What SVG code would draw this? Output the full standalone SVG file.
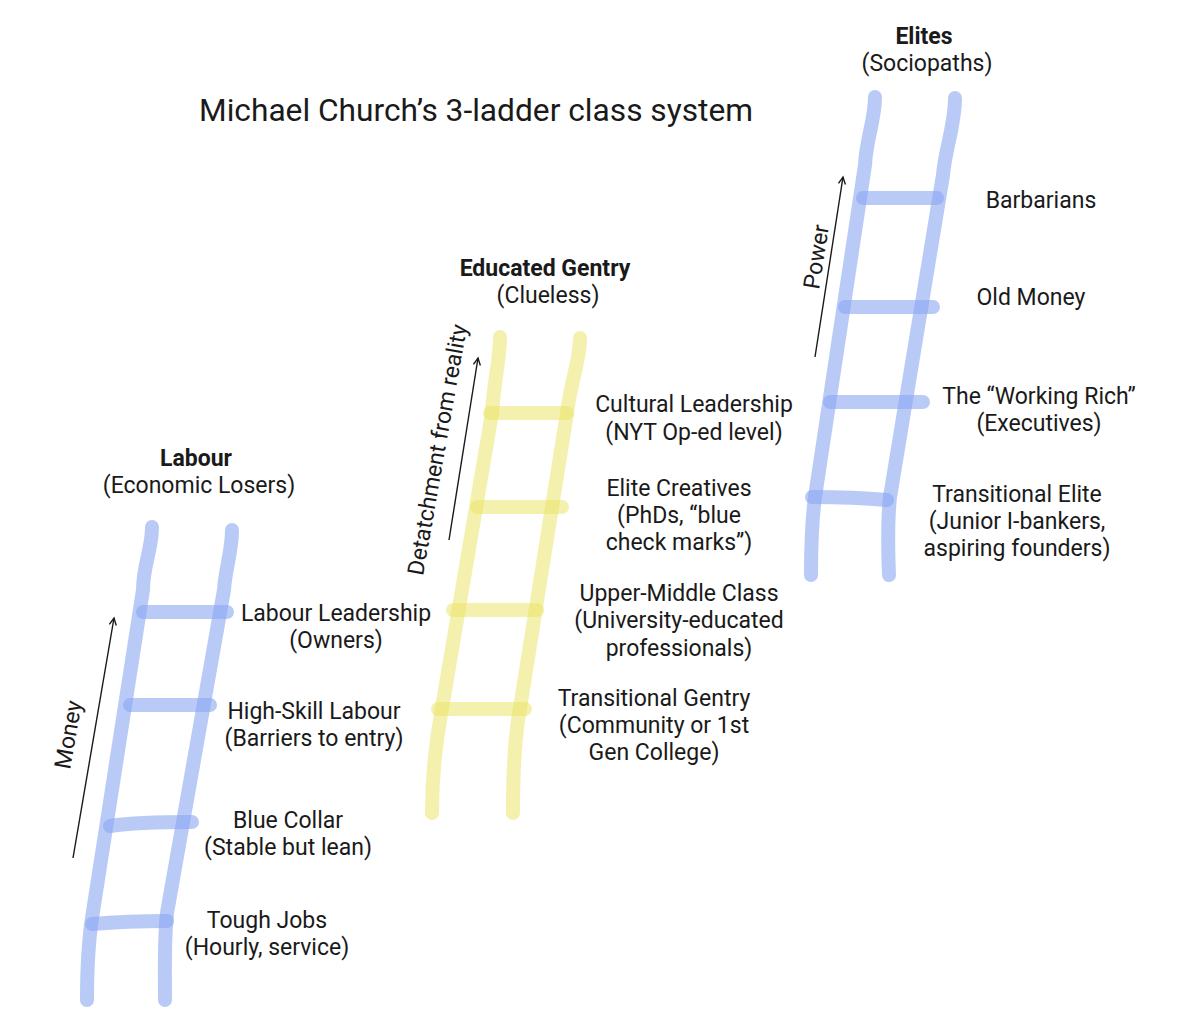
<svg xmlns="http://www.w3.org/2000/svg" width="1200" height="1031" viewBox="0 0 1200 1031">
<defs>
<style>
text{font-family:Roboto,"Liberation Sans",sans-serif;font-size:23px;fill:#1a1a1a;text-anchor:middle}
.b{font-weight:bold}
.title{font-size:31.7px}
.blue path{stroke:#8aa6f2;stroke-opacity:.6;stroke-width:14;fill:none;stroke-linecap:round;stroke-linejoin:round}
.yellow path{stroke:#ebe36a;stroke-opacity:.55;stroke-width:14;fill:none;stroke-linecap:round;stroke-linejoin:round}
.arrow{stroke:#1a1a1a;stroke-width:1.4;fill:none;marker-end:url(#ah)}
</style>
<marker id="ah" markerUnits="userSpaceOnUse" markerWidth="12" markerHeight="12" refX="8" refY="4" orient="auto" viewBox="0 0 12 8">
<path d="M1,0.5 L8,4 L1,7.5" fill="none" stroke="#1a1a1a" stroke-width="1.4"/>
</marker>
</defs>
<rect width="1200" height="1031" fill="#ffffff"/>
<text class="title" x="476" y="121">Michael Church’s 3-ladder class system</text>

<g id="ladder-labour" class="blue">
<path d="M152,527 C152,550 143,565 143,590 L92,918 C88,945 87,975 87,1000"/>
<path d="M232,530 C232,552 225,570 224,590 L167,913 C164,940 165,970 165,1000"/>
<path d="M143,612 L227,612"/>
<path d="M130,705 L210,705"/>
<path d="M110,826 C130,823 160,822 192,822"/>
<path d="M92,924 C115,922 140,921 167,921"/>
</g>

<g id="ladder-gentry" class="yellow">
<path d="M500,337 C500,360 494,380 492,413 L442,708 C436,740 432,770 432,813"/>
<path d="M580,338 C580,360 570,385 567,413 L520,708 C514,740 513,780 513,813"/>
<path d="M490,413 L567,413"/>
<path d="M477,507 L562,507"/>
<path d="M453,610 L537,610"/>
<path d="M438,709 L525,709"/>
</g>

<g id="ladder-elites" class="blue">
<path d="M875,97 C875,120 866,140 865,165 L815,497 C812,520 811,550 811,575"/>
<path d="M955,98 C955,125 945,150 943,175 L890,497 C887,525 888,550 889,575"/>
<path d="M863,198 L937,198"/>
<path d="M845,307 L933,307"/>
<path d="M830,402 L923,402"/>
<path d="M812,497 C840,497 865,498 887,500"/>
</g>

<g id="connectors">
<line class="arrow" x1="73" y1="858" x2="114" y2="618"/>
<line class="arrow" x1="449" y1="540" x2="478" y2="358"/>
<line class="arrow" x1="815" y1="357" x2="843" y2="177"/>
</g>

<g id="axis-labels">
<text transform="translate(76,736) rotate(-80)">Money</text>
<text transform="translate(445,451) rotate(-80)">Detatchment from reality</text>
<text transform="translate(824,258) rotate(-81)">Power</text>
</g>

<g id="head-labour">
<text class="b" x="196" y="466">Labour</text>
<text x="199" y="493">(Economic Losers)</text>
</g>
<g id="head-gentry">
<text class="b" x="545" y="276">Educated Gentry</text>
<text x="548" y="303">(Clueless)</text>
</g>
<g id="head-elites">
<text class="b" x="924" y="44">Elites</text>
<text x="927" y="71">(Sociopaths)</text>
</g>

<g id="node-barbarians"><text x="1041" y="208">Barbarians</text></g>
<g id="node-oldmoney"><text x="1031" y="305">Old Money</text></g>
<g id="node-workingrich"><text x="1039" y="404">The “Working Rich”</text><text x="1039" y="431">(Executives)</text></g>
<g id="node-transelite"><text x="1017" y="502">Transitional Elite</text><text x="1017" y="529">(Junior I-bankers,</text><text x="1017" y="556">aspiring founders)</text></g>

<g id="node-cultural"><text x="694" y="412">Cultural Leadership</text><text x="694" y="440">(NYT Op-ed level)</text></g>
<g id="node-creatives"><text x="679" y="496">Elite Creatives</text><text x="679" y="523">(PhDs, “blue</text><text x="679" y="550">check marks”)</text></g>
<g id="node-uppermiddle"><text x="679" y="601">Upper-Middle Class</text><text x="679" y="628">(University-educated</text><text x="679" y="656">professionals)</text></g>
<g id="node-transgentry"><text x="654" y="706">Transitional Gentry</text><text x="654" y="733">(Community or 1st</text><text x="654" y="760">Gen College)</text></g>

<g id="node-labourlead"><text x="336" y="621">Labour Leadership</text><text x="336" y="648">(Owners)</text></g>
<g id="node-highskill"><text x="314" y="719">High-Skill Labour</text><text x="314" y="746">(Barriers to entry)</text></g>
<g id="node-bluecollar"><text x="288" y="828">Blue Collar</text><text x="288" y="855">(Stable but lean)</text></g>
<g id="node-tough"><text x="267" y="928">Tough Jobs</text><text x="267" y="955">(Hourly, service)</text></g>
</svg>
